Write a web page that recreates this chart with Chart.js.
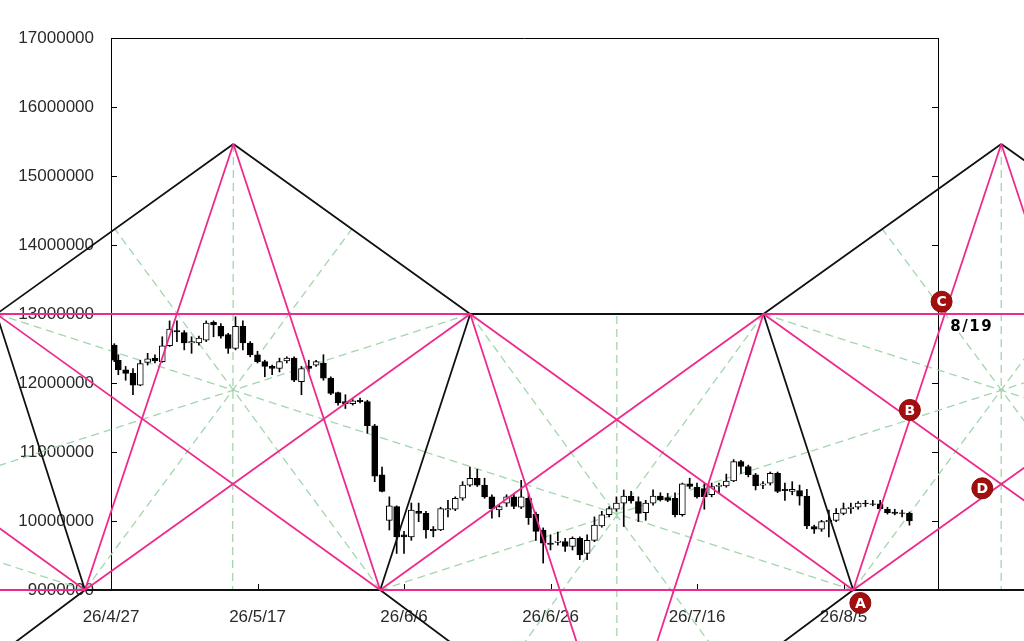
<!DOCTYPE html>
<html>
<head>
<meta charset="utf-8">
<script src="https://cdn.jsdelivr.net/npm/chart.js@4.4.1/dist/chart.umd.min.js"></script>
<style>
    html, body { margin: 0; padding: 0; background: #fff; }
    #wrap { width: 1024px; height: 641px; }
</style>
</head>
<body>
<div id="wrap"><canvas id="chart"></canvas></div>
<script>
const U = 1000000;

// x axis: days counted from 26/4/27
const tickDays = [0, 20, 40, 60, 80, 100];
const tickLabels = ['26/4/27', '26/5/17', '26/6/6', '26/6/26', '26/7/16', '26/8/5'];
const X_MAX = 112.9;

const yTicks = [9, 10, 11, 12, 13, 14, 15, 16, 17];

// daily candles (prices in millions)
const candleDays = [0.45, 1, 2, 3, 4, 5, 6, 7, 8, 9,
    10, 11, 12, 13, 14, 15, 16, 17, 18, 19,
    20, 21, 22, 23, 24, 25, 26, 27, 28, 29,
    30, 31, 32, 33, 34, 35, 36, 37, 38, 39,
    40, 41, 42, 43, 44, 45, 46, 47, 48, 49,
    50, 51, 52, 53, 54, 55, 56, 57, 58, 59,
    60, 61, 62, 63, 64, 65, 66, 67, 68, 69,
    70, 71, 72, 73, 74, 75, 76, 77, 78, 79,
    80, 81, 82, 83, 84, 85, 86, 87, 88, 89,
    90, 91, 92, 93, 94, 95, 96, 97, 98, 99,
    100, 101, 102, 103, 104, 105, 106, 107, 108, 109];

const opens = [12.55, 12.33, 12.19, 12.14, 11.97, 12.30, 12.36, 12.31, 12.54, 12.76,
    12.73, 12.58, 12.58, 12.62, 12.88, 12.82, 12.70, 12.50, 12.82, 12.58,
    12.41, 12.31, 12.24, 12.21, 12.32, 12.36, 12.02, 12.24, 12.26, 12.29,
    12.07, 11.86, 11.73, 11.70, 11.75, 11.73, 11.38, 10.67, 10.01, 10.21,
    9.80, 9.77, 10.14, 10.11, 9.88, 9.87, 10.16, 10.17, 10.33, 10.52,
    10.62, 10.52, 10.35, 10.16, 10.26, 10.35, 10.20, 10.33, 10.10, 9.87,
    9.68, 9.69, 9.70, 9.63, 9.75, 9.53, 9.72, 9.93, 10.09, 10.17,
    10.26, 10.36, 10.28, 10.12, 10.26, 10.36, 10.34, 10.33, 10.09, 10.54,
    10.49, 10.47, 10.38, 10.50, 10.51, 10.58, 10.86, 10.79, 10.67, 10.52,
    10.55, 10.69, 10.46, 10.43, 10.44, 10.36, 9.92, 9.88, 9.99, 10.01,
    10.11, 10.18, 10.20, 10.26, 10.25, 10.25, 10.17, 10.13, 10.12, 10.11];

const highs = [12.57, 12.41, 12.24, 12.21, 12.33, 12.43, 12.41, 12.67, 12.90, 12.90,
    12.76, 12.67, 12.68, 12.90, 12.90, 12.86, 12.72, 12.96, 12.90, 12.60,
    12.46, 12.33, 12.26, 12.36, 12.38, 12.38, 12.24, 12.33, 12.33, 12.41,
    12.09, 11.87, 11.83, 11.76, 11.78, 11.75, 11.40, 10.78, 10.35, 10.22,
    9.85, 10.26, 10.26, 10.14, 9.92, 10.20, 10.30, 10.35, 10.57, 10.78,
    10.75, 10.62, 10.38, 10.23, 10.38, 10.40, 10.59, 10.40, 10.13, 9.90,
    9.80, 9.84, 9.75, 9.77, 9.77, 9.80, 10.06, 10.14, 10.21, 10.35,
    10.45, 10.43, 10.35, 10.30, 10.45, 10.41, 10.40, 10.41, 10.55, 10.62,
    10.55, 10.54, 10.55, 10.55, 10.68, 10.89, 10.88, 10.81, 10.69, 10.57,
    10.71, 10.71, 10.55, 10.57, 10.52, 10.46, 9.94, 10.01, 10.16, 10.18,
    10.26, 10.26, 10.28, 10.30, 10.30, 10.30, 10.20, 10.17, 10.16, 10.13];

const lows = [12.31, 12.12, 12.04, 11.83, 11.96, 12.26, 12.29, 12.30, 12.53, 12.60,
    12.48, 12.43, 12.55, 12.60, 12.67, 12.65, 12.43, 12.48, 12.48, 12.38,
    12.29, 12.09, 12.12, 12.16, 12.29, 12.02, 11.83, 12.16, 12.24, 12.04,
    11.83, 11.68, 11.63, 11.68, 11.71, 11.27, 10.57, 10.42, 9.87, 9.53,
    9.53, 9.72, 9.99, 9.75, 9.77, 9.86, 10.06, 10.15, 10.30, 10.50,
    10.50, 10.33, 10.04, 10.06, 10.21, 10.18, 10.18, 9.95, 9.72, 9.39,
    9.58, 9.65, 9.56, 9.58, 9.44, 9.44, 9.70, 9.91, 10.06, 10.14,
    9.92, 10.26, 9.99, 10.01, 10.23, 10.29, 10.28, 10.06, 10.07, 10.47,
    10.33, 10.17, 10.35, 10.40, 10.49, 10.57, 10.69, 10.64, 10.45, 10.47,
    10.52, 10.41, 10.30, 10.38, 10.23, 9.89, 9.82, 9.85, 9.77, 9.99,
    10.09, 10.11, 10.17, 10.21, 10.22, 10.16, 10.10, 10.09, 10.06, 9.94];

const closes = [12.33, 12.19, 12.14, 11.97, 12.28, 12.35, 12.32, 12.54, 12.78, 12.74,
    12.58, 12.60, 12.65, 12.87, 12.84, 12.68, 12.50, 12.82, 12.58, 12.41,
    12.31, 12.24, 12.21, 12.31, 12.36, 12.04, 12.21, 12.21, 12.31, 12.07,
    11.85, 11.71, 11.70, 11.74, 11.73, 11.38, 10.65, 10.43, 10.22, 9.77,
    9.77, 10.16, 10.11, 9.87, 9.86, 10.18, 10.18, 10.33, 10.52, 10.62,
    10.52, 10.35, 10.18, 10.21, 10.35, 10.21, 10.35, 10.05, 9.85, 9.68,
    9.66, 9.71, 9.63, 9.75, 9.51, 9.72, 9.94, 10.09, 10.18, 10.26,
    10.36, 10.29, 10.11, 10.26, 10.36, 10.31, 10.30, 10.09, 10.54, 10.50,
    10.35, 10.35, 10.50, 10.52, 10.58, 10.86, 10.79, 10.67, 10.51, 10.54,
    10.69, 10.43, 10.44, 10.46, 10.36, 9.93, 9.88, 9.99, 10.01, 10.11,
    10.18, 10.20, 10.26, 10.25, 10.24, 10.18, 10.12, 10.11, 10.11, 10.00];

// pentagon vertices, listed round each pentagon: [day], [price in millions]
const pentDays = [
    [-55.66, -15.63, -3.55, -35.64, -67.73],
    [16.71, 49.04, 36.75, -3.55, -15.63],
    [49.04, 89.07, 101.32, 69.06, 36.75],
    [121.54, 154.02, 141.72, 101.32, 89.07]
];
const pentPrices = [
    [13, 13, 9, 6.449, 9],
    [15.464, 13, 9, 9, 13],
    [13, 13, 9, 6.449, 9],
    [15.464, 13, 9, 9, 13]
];

// marked points
const markerLetters = ['A', 'B', 'C', 'D'];
const markerDays = [102.3, 109.06, 113.39, 118.95];
const markerPrices = [8.812, 11.609, 13.178, 10.474];
const noteText = '8/19';
const noteDay = 117.5;
const notePrice = 12.81;

// --- build line segments ---
const segBlack = [], segPink = [], segGreen = [];
function addSeg(list, a, b) {
    list.push({ x: a[0], y: a[1] * U }, { x: b[0], y: b[1] * U }, { x: b[0], y: null });
}
pentDays.forEach((days, p) => {
    const v = days.map((d, i) => [d, pentPrices[p][i]]);
    for (let i = 0; i < 5; i++) {
        addSeg(segBlack, v[i], v[(i + 1) % 5]);
        addSeg(segPink, v[i], v[(i + 2) % 5]);
        const e1 = v[(i + 2) % 5], e2 = v[(i + 3) % 5];
        addSeg(segGreen, v[i], [(e1[0] + e2[0]) / 2, (e1[1] + e2[1]) / 2]);
    }
});

const wickData = candleDays.map((d, i) => ({ x: d, y: [lows[i] * U, highs[i] * U] }));
const bodyData = candleDays.map((d, i) => ({ x: d, y: [opens[i] * U, closes[i] * U] }));
const bodyColors = candleDays.map((d, i) => closes[i] >= opens[i] ? '#ffffff' : '#000000');

const FONT = '"Liberation Sans", Arial, sans-serif';

const framePlugin = {
    id: 'frame',
    beforeDatasetsDraw(chart) {
        const { ctx, chartArea: a, scales } = chart;
        ctx.save();
        ctx.strokeStyle = '#000';
        ctx.lineWidth = 1;
        ctx.beginPath();
        ctx.moveTo(a.left, a.top + 0.5);
        ctx.lineTo(a.right, a.top + 0.5);
        scales.y.ticks.forEach(t => {
            const y = Math.round(scales.y.getPixelForValue(t.value)) + 0.5;
            ctx.moveTo(a.left, y); ctx.lineTo(a.left + 6, y);
            ctx.moveTo(a.right - 6, y); ctx.lineTo(a.right, y);
        });
        scales.x.ticks.forEach(t => {
            const x = Math.round(scales.x.getPixelForValue(t.value)) + 0.5;
            ctx.moveTo(x, a.bottom); ctx.lineTo(x, a.bottom - 6);
        });
        ctx.stroke();
        ctx.restore();
    },
    afterDatasetsDraw(chart) {
        const { ctx, scales } = chart;
        ctx.save();
        // lettered circles
        markerDays.forEach((d, i) => {
            const x = scales.x.getPixelForValue(d);
            const y = scales.y.getPixelForValue(markerPrices[i] * U);
            ctx.beginPath();
            ctx.arc(x, y, 10.5, 0, Math.PI * 2);
            ctx.fillStyle = '#a30f0f';
            ctx.fill();
            ctx.lineWidth = 1;
            ctx.strokeStyle = '#8a0a0a';
            ctx.stroke();
            ctx.fillStyle = '#fff';
            ctx.font = 'bold 14px "DejaVu Sans", sans-serif';
            ctx.textAlign = 'center';
            ctx.textBaseline = 'middle';
            ctx.fillText(markerLetters[i], x, y + 1);
        });
        ctx.fillStyle = '#000';
        ctx.font = 'bold 15px "DejaVu Sans", sans-serif';
        ctx.textAlign = 'center';
        ctx.textBaseline = 'middle';
        ctx.letterSpacing = '1.5px';
        ctx.fillText(noteText, scales.x.getPixelForValue(noteDay), scales.y.getPixelForValue(notePrice * U));
        ctx.restore();
    }
};

new Chart(document.getElementById('chart'), {
    type: 'line',
    data: {
        datasets: [
            { type: 'line', data: segGreen, borderColor: '#a2d6ac', borderWidth: 1.3, borderDash: [8, 5],
              pointRadius: 0, spanGaps: false, clip: false, order: 6 },
            { type: 'bar', data: wickData, backgroundColor: '#000', barThickness: 1, grouped: false, order: 5 },
            { type: 'bar', data: bodyData, backgroundColor: bodyColors, borderColor: '#000', borderWidth: 1,
              borderSkipped: false, barThickness: 6, grouped: false, order: 4 },
            { type: 'line', data: segBlack, borderColor: '#111', borderWidth: 1.8,
              pointRadius: 0, spanGaps: false, clip: false, order: 3 },
            { type: 'line', data: segPink, borderColor: '#ee2a8c', borderWidth: 1.8,
              pointRadius: 0, spanGaps: false, clip: false, order: 2 }
        ]
    },
    options: {
        responsive: true,
        maintainAspectRatio: false,
        animation: false,
        events: [],
        layout: { padding: { top: 38, left: 0, right: 0, bottom: 0 } },
        plugins: { legend: { display: false }, tooltip: { enabled: false } },
        scales: {
            x: {
                type: 'linear', min: 0, max: X_MAX, offset: false,
                grid: { display: false, offset: false },
                border: { display: true, color: '#000', width: 1 },
                afterBuildTicks: s => { s.ticks = tickDays.map(v => ({ value: v })); },
                afterFit: s => { s.height = 51; },
                ticks: {
                    autoSkip: false, maxRotation: 0, padding: 9, color: '#2a2a2a',
                    font: { family: FONT, size: 17 },
                    callback: (v, i) => tickLabels[i]
                }
            },
            y: {
                type: 'linear', position: 'left', min: 9 * U, max: 17 * U,
                grid: { display: false },
                border: { display: true, color: '#000', width: 1 },
                afterBuildTicks: s => { s.ticks = yTicks.map(v => ({ value: v * U })); },
                afterFit: s => { s.width = 111; },
                ticks: {
                    padding: 9, color: '#2a2a2a',
                    font: { family: FONT, size: 17 },
                    callback: v => String(v)
                }
            },
            y2: {
                type: 'linear', position: 'right', min: 9 * U, max: 17 * U,
                grid: { display: false },
                border: { display: true, color: '#000', width: 1 },
                afterFit: s => { s.width = 86; },
                ticks: { display: false }
            }
        }
    },
    plugins: [framePlugin]
});
</script>
</body>
</html>
